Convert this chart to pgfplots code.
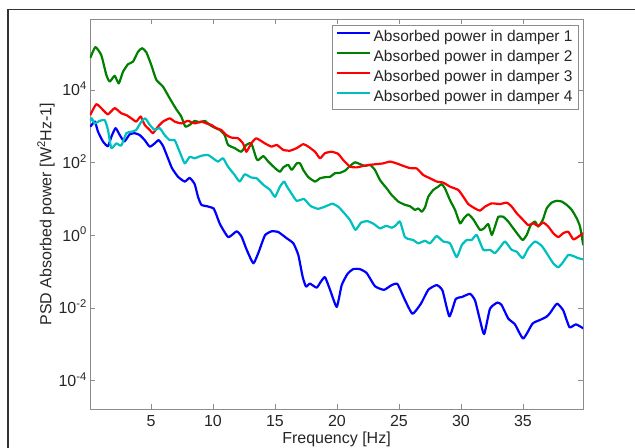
\documentclass[border=0pt]{standalone}
\usepackage{fontspec}
\setmainfont{Liberation Sans}
\usepackage{pgfplots}
\pgfplotsset{compat=1.18}
\usepackage{pgfplotstable}

\definecolor{mblue}{RGB}{0,0,255}
\definecolor{mgreen}{RGB}{0,128,0}
\definecolor{mred}{RGB}{255,0,0}
\definecolor{mcyan}{RGB}{0,191,191}

% second column: log10 of the PSD
\pgfplotstableread{
f lg
0.10 2.99
0.32 3.08
0.48 3.13
0.73 2.85
1.13 2.58
1.53 2.45
1.80 2.71
2.14 2.95
2.48 2.76
2.85 2.58
3.28 2.78
3.69 2.81
4.09 2.76
4.49 2.62
4.90 2.44
5.30 2.53
5.62 2.62
5.97 2.46
6.37 2.12
6.69 1.85
7.18 1.61
7.72 1.48
8.12 1.58
8.52 1.41
8.79 1.06
9.06 0.84
9.52 0.80
10.04 0.74
10.28 0.56
10.56 0.31
11.23 -0.05
11.91 0.11
12.31 -0.04
12.72 -0.40
13.25 -0.77
13.65 -0.49
14.19 0.00
14.73 0.11
15.27 0.09
15.94 -0.08
16.48 -0.22
16.88 -0.54
17.23 -1.14
17.50 -1.41
17.82 -1.33
18.36 -1.44
18.69 -1.28
19.03 -1.15
19.44 -1.50
19.98 -1.97
20.38 -1.37
20.85 -1.06
21.31 -0.93
21.85 -0.93
22.40 -1.04
23.06 -1.40
23.79 -1.50
24.41 -1.37
24.88 -1.34
25.48 -1.78
26.09 -2.16
26.77 -1.88
27.36 -1.50
28.04 -1.37
28.51 -1.52
29.06 -2.23
29.58 -1.75
30.06 -1.70
30.73 -1.61
31.13 -1.79
31.53 -2.33
31.87 -2.72
32.34 -2.02
32.94 -1.85
33.28 -1.92
33.81 -2.29
34.35 -2.45
35.02 -2.84
35.77 -2.43
36.37 -2.33
36.90 -2.24
37.18 -2.14
37.74 -1.88
38.25 -2.07
38.75 -2.53
39.27 -2.45
39.86 -2.56
}\damperA

\pgfplotstableread{
f lg
0.10 4.88
0.51 5.18
0.99 4.96
1.40 4.41
1.67 4.23
2.07 4.39
2.40 4.18
2.74 4.50
3.15 4.71
3.55 4.78
3.95 5.05
4.27 5.15
4.62 5.04
5.02 4.69
5.43 4.28
5.97 4.09
6.51 3.77
7.04 3.47
7.44 3.27
7.77 2.99
8.12 3.04
8.52 3.15
8.93 3.11
9.33 3.15
9.73 3.04
10.14 2.96
10.54 2.90
10.94 2.76
11.21 2.49
11.75 2.40
12.28 2.30
12.69 2.49
13.09 2.53
13.49 2.12
13.65 2.07
14.06 2.18
14.46 2.03
15.00 1.85
15.40 1.75
15.67 1.87
16.07 1.94
16.35 1.80
16.75 1.98
17.02 1.98
17.28 1.80
17.69 1.60
18.23 1.48
18.63 1.57
19.03 1.60
19.44 1.61
19.84 1.71
20.24 1.72
20.65 1.78
21.05 1.91
21.45 2.01
21.85 1.96
22.26 1.91
22.66 1.94
23.06 1.80
23.47 1.52
24.01 1.29
24.41 1.11
24.94 0.93
25.48 0.84
25.89 0.80
26.29 0.70
26.56 0.74
26.83 0.65
27.10 0.77
27.36 1.06
27.77 1.25
28.17 1.34
28.44 1.41
28.71 1.29
29.11 0.97
29.52 0.70
29.92 0.33
30.24 0.47
30.59 0.58
30.99 0.44
31.53 0.15
31.85 0.19
32.20 0.31
32.48 0.01
32.74 0.24
33.01 0.51
33.41 0.51
33.81 0.38
34.22 0.19
34.62 0.01
34.98 -0.13
35.30 0.01
35.62 0.28
35.97 0.38
36.23 0.24
36.59 0.42
36.91 0.74
37.31 0.90
37.72 0.95
38.12 0.93
38.52 0.84
38.93 0.70
39.33 0.47
39.60 0.24
39.86 -0.27
}\damperB

\pgfplotstableread{
f lg
0.10 3.31
0.59 3.61
1.13 3.45
1.53 3.33
2.07 3.50
2.60 3.36
3.01 3.31
3.41 3.22
3.81 3.13
4.17 3.27
4.49 3.04
4.90 2.90
5.16 2.81
5.56 2.99
5.97 3.13
6.51 3.22
6.91 3.13
7.44 3.08
7.98 3.15
8.52 3.08
9.06 3.13
9.46 3.08
9.86 3.04
10.27 2.95
10.67 2.90
11.07 2.76
11.48 2.69
12.02 2.67
12.42 2.53
12.69 2.30
13.09 2.53
13.49 2.67
14.19 2.53
14.73 2.44
15.14 2.49
15.67 2.35
16.21 2.33
16.75 2.40
17.28 2.51
17.69 2.44
18.23 2.30
18.63 2.12
19.03 2.26
19.57 2.30
20.10 2.24
20.51 2.07
21.05 1.89
21.59 1.87
22.12 1.91
22.66 1.94
23.20 1.96
23.73 1.98
24.27 2.03
24.81 1.98
25.35 1.91
25.89 1.85
26.43 1.84
26.96 1.66
27.50 1.57
28.04 1.48
28.57 1.45
29.11 1.34
29.78 1.25
30.19 1.06
30.59 0.86
31.13 0.74
31.53 0.68
31.94 0.79
32.48 0.88
33.15 0.86
33.69 0.90
34.09 0.79
34.49 0.61
35.02 0.42
35.43 0.28
35.83 0.33
36.23 0.26
36.64 0.35
37.04 0.24
37.44 0.06
37.85 -0.05
38.25 0.06
38.65 0.10
39.06 -0.11
39.46 -0.04
39.86 0.06
}\damperC

\pgfplotstableread{
f lg
0.10 3.15
0.22 3.22
0.46 3.08
0.86 3.15
1.27 3.17
1.53 2.90
1.80 2.40
2.20 2.53
2.60 2.47
3.01 2.81
3.41 2.85
3.81 2.90
4.22 3.13
4.54 3.22
4.90 3.04
5.30 2.90
5.70 2.95
6.10 2.76
6.51 2.62
6.91 2.62
7.31 2.30
7.72 1.98
8.12 2.16
8.52 2.12
9.06 2.19
9.60 2.21
10.00 2.12
10.40 2.03
10.81 2.12
11.21 1.89
11.75 1.66
12.15 1.48
12.56 1.68
13.09 1.59
13.52 1.57
14.06 1.39
14.60 1.25
15.00 1.06
15.40 1.34
15.73 1.48
15.97 1.34
16.35 1.14
16.75 0.95
17.34 1.00
17.86 0.81
18.47 0.73
19.03 0.79
19.64 0.87
20.16 0.77
20.71 0.56
21.05 0.42
21.49 0.15
21.94 0.35
22.46 0.39
22.98 0.31
23.47 0.19
23.95 0.26
24.44 0.21
24.76 0.28
25.08 0.38
25.48 -0.05
25.89 -0.11
26.15 -0.13
26.56 -0.22
27.10 -0.15
27.50 -0.22
28.04 -0.02
28.57 -0.17
29.11 -0.22
29.65 -0.60
30.06 -0.27
30.46 -0.13
30.86 -0.13
31.27 0.01
31.80 -0.40
32.34 -0.40
32.74 -0.49
33.15 -0.33
33.55 -0.17
34.09 -0.40
34.49 -0.45
34.98 -0.63
35.43 -0.36
35.97 -0.17
36.51 -0.29
36.91 -0.49
37.44 -0.77
37.85 -0.88
38.25 -0.73
38.65 -0.54
39.06 -0.57
39.46 -0.63
39.86 -0.66
}\damperD

\begin{document}
\begin{tikzpicture}
\begin{axis}[
    scale only axis,
    width=493bp, height=389.5bp,
    xmin=0.08, xmax=39.84,
    ymin=-4.78, ymax=5.94,
    xtick={5,10,...,35},
    ytick={-4,-2,0,2,4},
    yticklabels={10\textsuperscript{-4},10\textsuperscript{-2},10\textsuperscript{0},10\textsuperscript{2},10\textsuperscript{4}},
    /pgf/number format/assume math mode=true,
    minor tick num=0,
    axis line style={black!45, line width=0.9bp},
    tick style={black!45, line width=0.9bp},
    major tick length=5bp,
    tick label style={font=\fontsize{16bp}{19bp}\selectfont, text=black!85},
    xticklabel style={anchor=base, yshift=-17.5bp},
    yticklabel style={anchor=base east, inner sep=0pt, xshift=-3bp, yshift=-5.7bp},
    label style={font=\fontsize{16bp}{19bp}\selectfont, text=black!85},
    xlabel={Frequency [Hz]},
    xlabel style={at={(axis description cs:0.5,-0.0886)}, anchor=base},
    ylabel={PSD Absorbed power [W\textsuperscript{2}Hz-1]},
    ylabel style={at={(axis description cs:-0.0892,0.5)}, anchor=center},
    legend cell align=left,
    legend style={at={(0.992,0.986)}, anchor=north east, draw=black!45, line width=0.9bp,
        fill=white, inner xsep=4bp, inner ysep=5bp, row sep=5.5bp,
        font=\fontsize{15.5bp}{18bp}\selectfont, text=black!85,
        nodes={inner xsep=2bp, inner ysep=0bp, text height=11bp, text depth=3.5bp}},
    legend image code/.code={\draw[#1, line width=2.2bp] (0bp,4.5bp) -- (33bp,4.5bp);},
    every axis plot/.append style={line width=2.2bp, line join=round, smooth, tension=0.3},
]
\addplot[mblue] table[x=f, y=lg] {\damperA};
\addplot[mgreen] table[x=f, y=lg] {\damperB};
\addplot[mred] table[x=f, y=lg] {\damperC};
\addplot[mcyan] table[x=f, y=lg] {\damperD};
\legend{Absorbed power in damper 1, Absorbed power in damper 2, Absorbed power in damper 3, Absorbed power in damper 4}
\end{axis}
\pgfresetboundingbox
\path[use as bounding box] (-90bp,-39bp) rectangle (545bp,409bp);
\draw[black!80, line width=1.2bp] (-82bp,-39bp) -- (-82bp,399.5bp) -- (545bp,399.5bp);
\end{tikzpicture}
\end{document}
